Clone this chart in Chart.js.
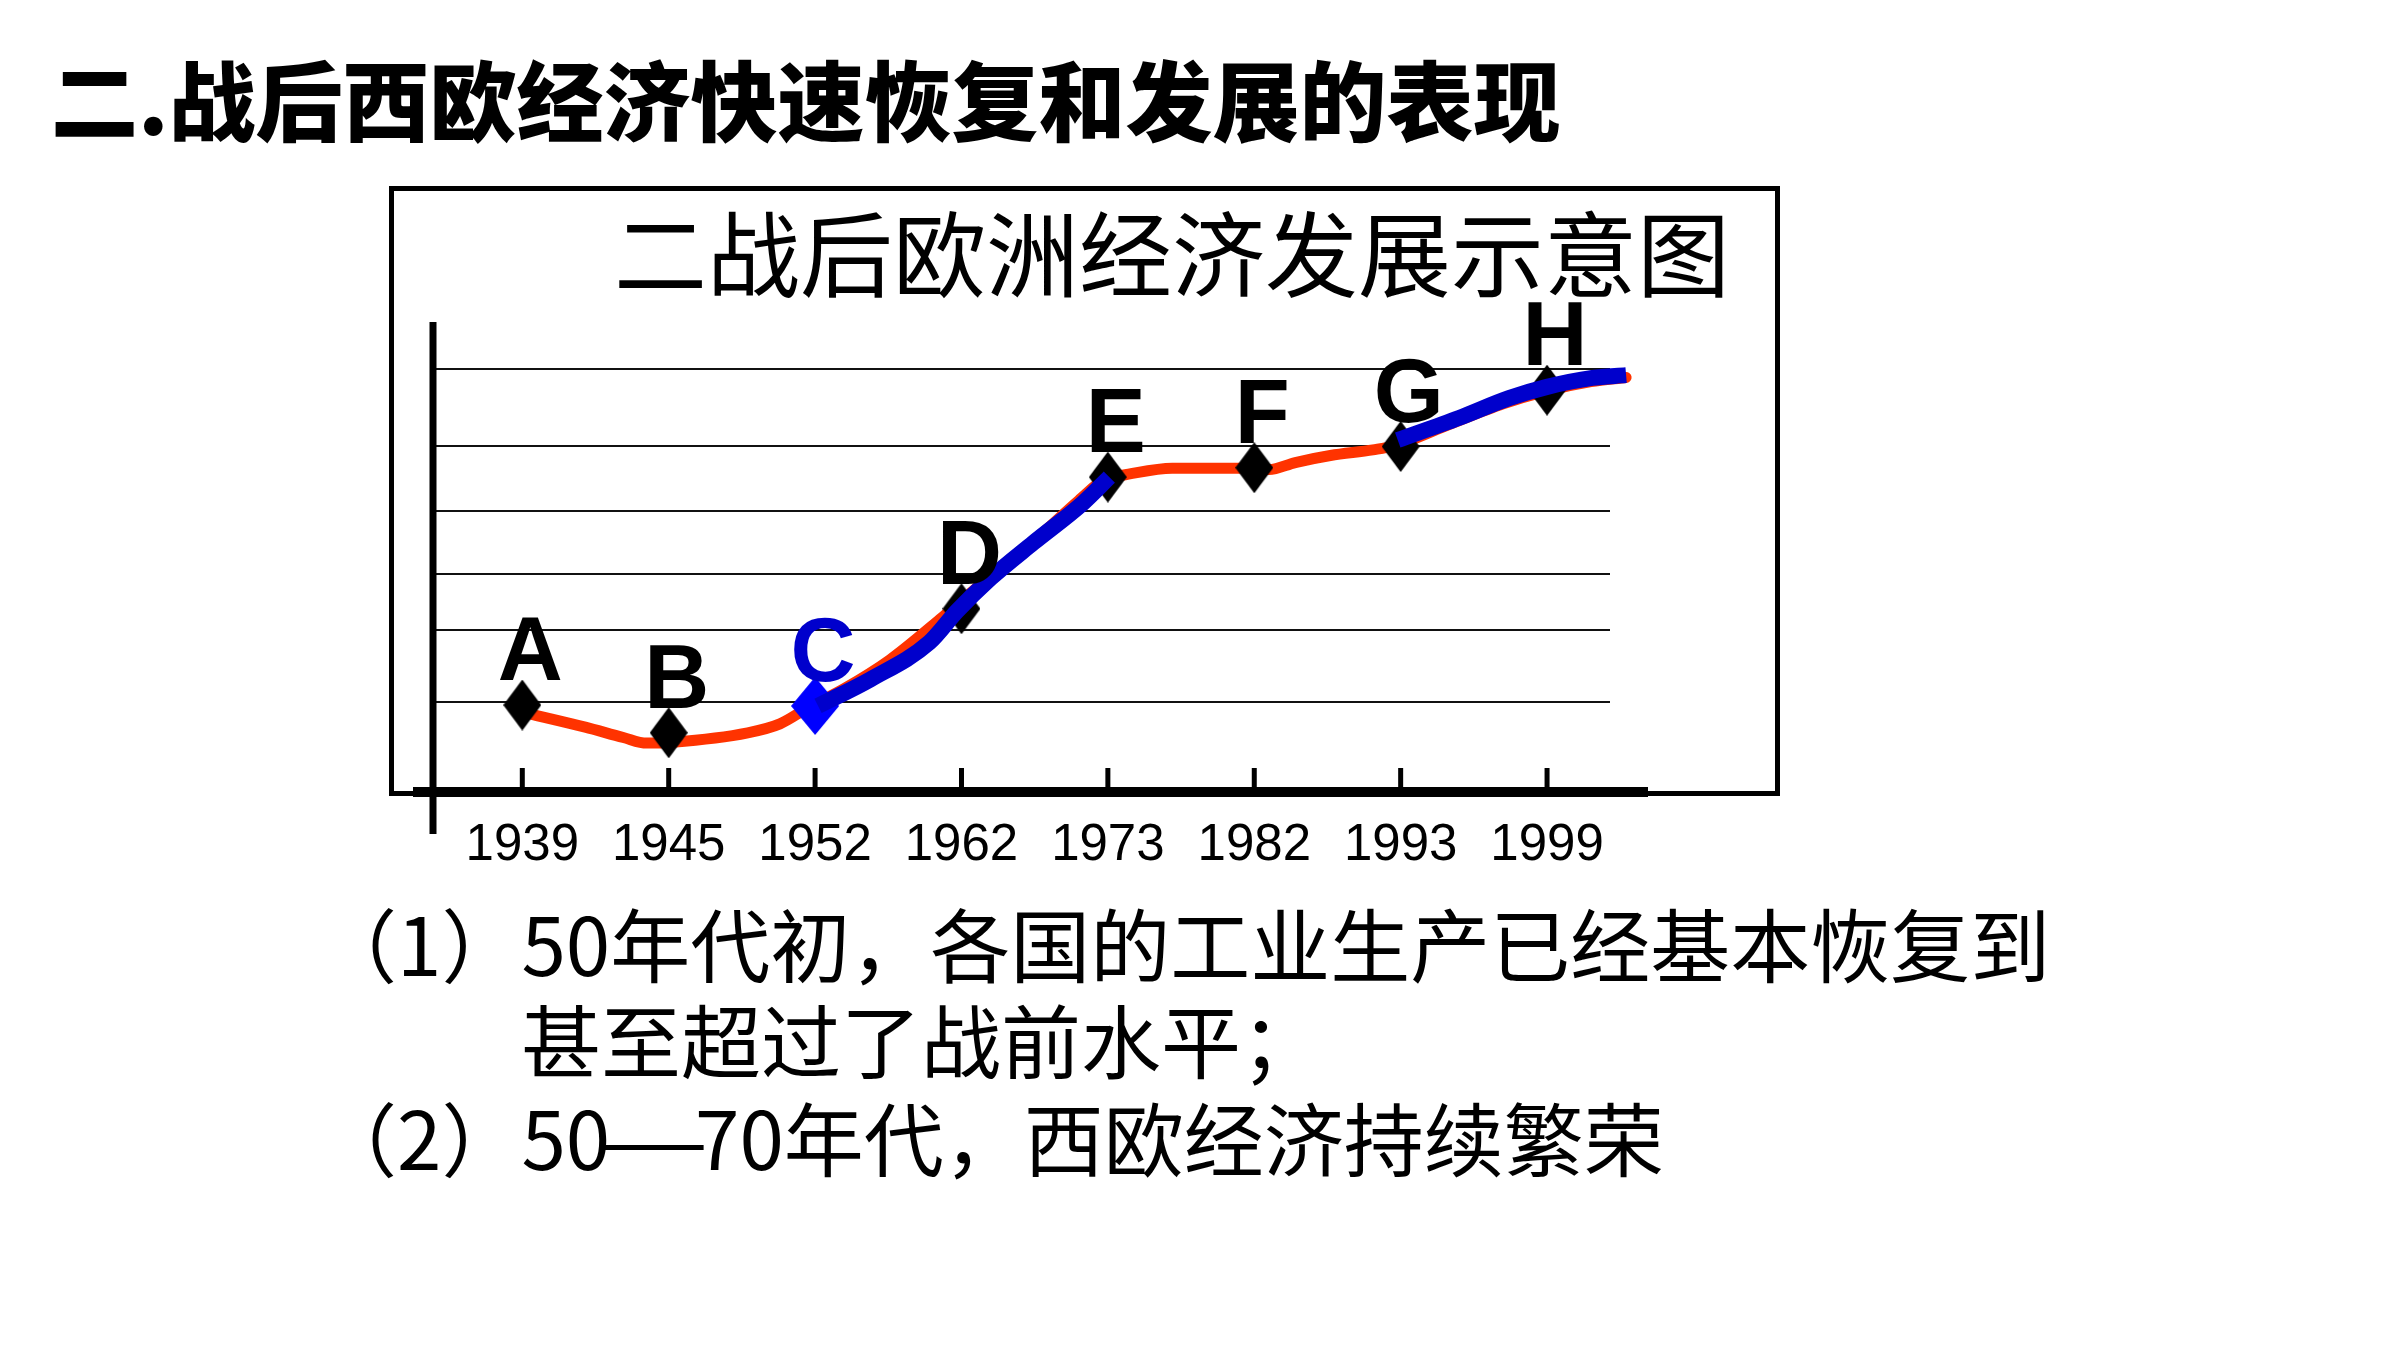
<!DOCTYPE html>
<html>
<head>
<meta charset="utf-8">
<script src="https://cdn.jsdelivr.net/npm/chart.js@4.4.1/dist/chart.umd.min.js"></script>
<style>
  html, body { margin: 0; padding: 0; background: #fff; }
  body { width: 2400px; height: 1350px; position: relative; overflow: hidden; }
  #frame { position: absolute; left: 389px; top: 186px; width: 1391px; height: 610px;
           border: 5px solid #000; box-sizing: border-box; z-index: 0; }
  #c { position: absolute; left: 0; top: 0; z-index: 1; }
  .txt { position: absolute; white-space: nowrap; line-height: 1; color: #000; z-index: 2;
         font-family: "Noto Sans CJK SC", "Noto Sans", sans-serif; }
  #title { left: 51px; top: 54px; font-size: 87px; font-weight: 900; }
  #ctitle { left: 614px; top: 203px; font-size: 93px; font-weight: 400; }
  .b { font-size: 80px; font-weight: 400; }
  .dash { display: inline-block; width: 1.06em; text-align: center; transform: scaleX(1.6); }
</style>
</head>
<body>
<div id="frame"></div>
<canvas id="c" width="2400" height="1350"></canvas>
<div class="txt" id="title">二.战后西欧经济快速恢复和发展的表现</div>
<div class="txt" id="ctitle">二战后欧洲经济发展示意图</div>
<div class="txt b" style="left:317px; top:901px;">（1）50年代初，各国的工业生产已经基本恢复到</div>
<div class="txt b" style="left:521px; top:997px;">甚至超过了战前水平；</div>
<div class="txt b" style="left:317px; top:1095px;">（2）50<span class="dash">—</span>70年代，西欧经济持续繁荣</div>
<script>
// ---- data (x = position index of the year on the sketch axis, y = relative economic level) ----
const years = ['1939', '1945', '1952', '1962', '1973', '1982', '1993', '1999'];
const pointLetters = ['A', 'B', 'C', 'D', 'E', 'F', 'G', 'H'];
const pointIndex = [0, 1, 2, 3, 4, 5, 6, 7];
const pointLevel = [18.5, 12.6, 18.3, 39.0, 67.0, 69.0, 73.5, 85.5];
const gridLevels = [19.1, 34.5, 46.4, 59.8, 73.6, 90.0];

const redCurveX = [0.0, 0.43, 0.69, 0.85, 1.03, 1.54, 1.76, 1.95, 2.2, 2.51, 2.87, 3.2, 3.55, 3.8, 3.99, 4.10, 4.44, 4.92, 5.1, 5.28, 5.52, 5.81, 5.95, 6.3, 6.7, 6.98, 7.3, 7.54];
const redCurveY = [17.0, 13.8, 11.6, 10.4, 10.6, 12.6, 14.5, 17.9, 22.0, 28.1, 37.2, 46.0, 55.0, 62.0, 66.8, 67.4, 68.9, 68.9, 68.6, 70.1, 71.6, 72.8, 73.6, 77.8, 82.6, 85.2, 87.3, 88.2];

const blueRiseX = [2.02, 2.38, 2.78, 2.97, 3.2, 3.49, 3.83, 4.01];
const blueRiseY = [18.3, 24.0, 31.8, 38.5, 45.5, 53.0, 61.5, 67.0];

const blueLateX = [5.98, 6.40, 6.74, 7.0, 7.31, 7.54];
const blueLateY = [74.9, 79.6, 83.8, 86.2, 88.1, 88.7];

// ---- helpers ----
const zip = (xs, ys) => xs.map((x, i) => ({ x: x, y: ys[i] }));
function diamond(w, h, color) {
  const c = document.createElement('canvas');
  c.width = w; c.height = h;
  const g = c.getContext('2d');
  g.fillStyle = color;
  g.beginPath();
  g.moveTo(w / 2, 0); g.lineTo(w, h / 2); g.lineTo(w / 2, h); g.lineTo(0, h / 2);
  g.closePath(); g.fill();
  return c;
}
const blackDiamond = diamond(38, 51, '#000000');
const blueDiamond = diamond(48, 58, '#0000FF');

const axesPlugin = {
  id: 'axesDeco',
  beforeDatasetsDraw(chart) {
    const { ctx, chartArea, scales } = chart;
    const x = scales.x, y = scales.y;
    const y0 = y.getPixelForValue(0);
    ctx.save();
    ctx.strokeStyle = '#000';
    ctx.lineCap = 'butt';
    ctx.lineWidth = 10;
    ctx.beginPath(); ctx.moveTo(chartArea.left - 20, y0); ctx.lineTo(chartArea.right + 38, y0); ctx.stroke();
    ctx.lineWidth = 7;
    ctx.beginPath(); ctx.moveTo(chartArea.left, chartArea.top); ctx.lineTo(chartArea.left, y0 + 42); ctx.stroke();
    ctx.lineWidth = 5;
    years.forEach((_, i) => {
      const px = x.getPixelForValue(i);
      ctx.beginPath(); ctx.moveTo(px, y0 - 24); ctx.lineTo(px, y0); ctx.stroke();
    });
    ctx.restore();
  }
};

const lettersPlugin = {
  id: 'pointLetters',
  afterDatasetsDraw(chart) {
    const { ctx, scales } = chart;
    ctx.save();
    ctx.font = 'bold 90px "Liberation Sans", Arial, sans-serif';
    ctx.textAlign = 'center';
    ctx.textBaseline = 'alphabetic';
    pointLetters.forEach((L, i) => {
      const px = scales.x.getPixelForValue(pointIndex[i]) + 8;
      const py = scales.y.getPixelForValue(pointLevel[i]) - 25;
      ctx.fillStyle = (L === 'C') ? '#0000CC' : '#000000';
      ctx.fillText(L, px, py);
    });
    ctx.restore();
  }
};

new Chart(document.getElementById('c'), {
  type: 'line',
  data: {
    datasets: [
      { label: 'rise', data: zip(blueRiseX, blueRiseY), order: 0, borderColor: '#0000CC', borderWidth: 16,
        pointRadius: 0, cubicInterpolationMode: 'monotone', borderCapStyle: 'butt', clip: false },
      { label: 'late', data: zip(blueLateX, blueLateY), order: 0, borderColor: '#0000CC', borderWidth: 16,
        pointRadius: 0, cubicInterpolationMode: 'monotone', borderCapStyle: 'butt', clip: false },
      { label: 'points', data: zip(pointIndex, pointLevel), order: 1, showLine: false,
        pointStyle: (c) => (c.dataIndex === 2 ? blueDiamond : blackDiamond), clip: false },
      { label: 'economy', data: zip(redCurveX, redCurveY), order: 2, borderColor: '#FF3300', borderWidth: 11,
        pointRadius: 0, cubicInterpolationMode: 'monotone', borderCapStyle: 'round', borderJoinStyle: 'round', clip: false }
    ]
  },
  options: {
    responsive: false,
    devicePixelRatio: 1,
    animation: false,
    events: [],
    layout: { padding: { left: 433, right: 790, top: 322, bottom: 478 } },
    plugins: { legend: { display: false }, tooltip: { enabled: false }, title: { display: false } },
    scales: {
      x: {
        type: 'linear', min: -0.61, max: 7.43,
        afterBuildTicks: (s) => { s.ticks = years.map((_, i) => ({ value: i })); },
        afterFit: (s) => { s.height = 80; },
        grid: { display: false, drawTicks: false },
        border: { display: false },
        ticks: { autoSkip: false, maxRotation: 0, color: '#000', padding: 23,
                 font: { family: '"Liberation Sans", Arial, sans-serif', size: 51 },
                 callback: (v) => years[v] }
      },
      y: {
        type: 'linear', min: 0, max: 100,
        afterBuildTicks: (s) => { s.ticks = gridLevels.map((v) => ({ value: v })); },
        afterFit: (s) => { s.width = 0; },
        ticks: { display: false },
        grid: { color: '#111', lineWidth: 2, drawTicks: false },
        border: { display: false }
      }
    }
  },
  plugins: [axesPlugin, lettersPlugin]
});
</script>
</body>
</html>
